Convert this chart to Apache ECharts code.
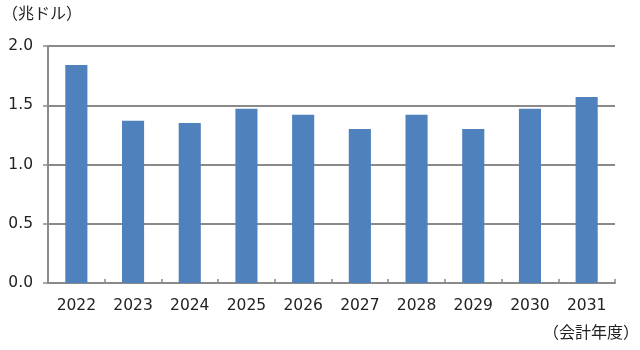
<!DOCTYPE html>
<html><head><meta charset="utf-8">
<script src="https://cdn.jsdelivr.net/npm/echarts@6/dist/echarts.min.js"></script>
<style>html,body{margin:0;padding:0;background:#fff}#c{width:640px;height:350px}</style>
</head><body><div id="c"></div>
<script>
const categories = ['2022','2023','2024','2025','2026','2027','2028','2029','2030','2031'];
const values = [1.84, 1.37, 1.35, 1.47, 1.42, 1.30, 1.42, 1.30, 1.47, 1.57];
const yUnit = '（兆ドル）';
const xUnit = '（会計年度）';
const font = '"Noto Sans CJK JP", "DejaVu Sans", sans-serif';
const numFont = '"DejaVu Sans", sans-serif';
const chart = echarts.init(document.getElementById('c'), null, {renderer: 'canvas'});
chart.setOption({
  animation: false,
  backgroundColor: '#fff',
  grid: {left: 48, right: 25, top: 46, bottom: 67},
  graphic: [
    {type: 'text', left: 2, top: 5, style: {text: yUnit, font: '16px ' + font, fill: '#222'}},
    {type: 'text', right: 1, top: 324, style: {text: xUnit, font: '16px ' + font, fill: '#222'}}
  ],
  xAxis: {
    type: 'category', data: categories,
    axisLine: {lineStyle: {color: '#8a8a8a', width: 2}},
    axisTick: {show: true, inside: true, length: 4, lineStyle: {color: '#8a8a8a', width: 1.5}},
    axisLabel: {color: '#222', fontSize: 15.5, fontFamily: numFont, margin: 15}
  },
  yAxis: {
    type: 'value', min: 0, max: 2, interval: 0.5,
    axisLine: {show: true, lineStyle: {color: '#8a8a8a', width: 2}},
    axisTick: {show: true, length: 5, lineStyle: {color: '#8a8a8a', width: 1.5}},
    splitLine: {lineStyle: {color: '#8a8a8a', width: 2}},
    axisLabel: {color: '#222', fontSize: 15.5, fontFamily: numFont, margin: 15,
      formatter: v => v.toFixed(1)}
  },
  series: [{
    type: 'bar', data: values, barWidth: '39%',
    itemStyle: {color: '#4F81BD'}
  }]
});
</script></body></html>
